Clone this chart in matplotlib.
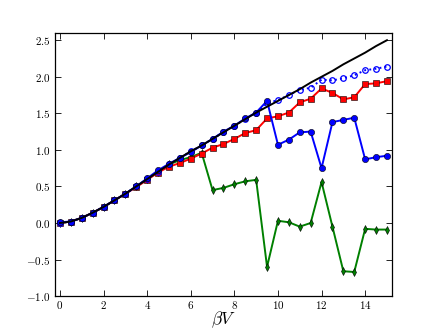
import numpy as np
import matplotlib
matplotlib.use("Agg")
import matplotlib.pyplot as plt
from matplotlib.ticker import FuncFormatter, MultipleLocator

plt.rcParams['mathtext.fontset'] = 'cm'
plt.rcParams['font.family'] = 'DejaVu Serif'

# beta*V grid
beta_v = np.arange(0, 15.01, 0.5)

# exact curve (black line)
exact = [0.00, 0.02, 0.07, 0.14, 0.22, 0.31, 0.40, 0.50, 0.60, 0.70,
         0.80, 0.89, 0.98, 1.06, 1.15, 1.24, 1.33, 1.42, 1.51, 1.59,
         1.67, 1.75, 1.83, 1.92, 2.00, 2.08, 2.17, 2.25, 2.33, 2.42, 2.50]

# open blue circles, dotted
open_blue = [0.00, 0.02, 0.07, 0.14, 0.22, 0.31, 0.40, 0.50, 0.60, 0.70,
             0.80, 0.89, 0.98, 1.06, 1.15, 1.24, 1.33, 1.42, 1.51, 1.64,
             1.68, 1.75, 1.82, 1.85, 1.96, 1.95, 1.98, 2.02, 2.09, 2.11, 2.14]

# red squares
red_sq = [0.00, 0.02, 0.07, 0.14, 0.22, 0.31, 0.40, 0.49, 0.59, 0.69,
          0.77, 0.82, 0.88, 0.95, 1.03, 1.08, 1.15, 1.23, 1.27, 1.43,
          1.46, 1.51, 1.65, 1.70, 1.84, 1.78, 1.69, 1.72, 1.90, 1.91, 1.94]

# filled blue circles
blue_dot = [0.01, 0.02, 0.07, 0.14, 0.22, 0.31, 0.40, 0.50, 0.61, 0.72,
            0.81, 0.89, 0.97, 1.06, 1.15, 1.25, 1.33, 1.43, 1.51, 1.67,
            1.07, 1.14, 1.24, 1.25, 0.75, 1.38, 1.41, 1.44, 0.87, 0.90, 0.92]

# green diamonds
green_dia = [0.00, 0.02, 0.07, 0.14, 0.22, 0.31, 0.40, 0.50, 0.60, 0.70,
             0.80, 0.86, 0.90, 0.96, 0.45, 0.48, 0.53, 0.57, 0.59, -0.60,
             0.03, 0.01, -0.05, 0.00, 0.56, -0.05, -0.66, -0.67, -0.08, -0.09, -0.09]

fig, ax = plt.subplots(figsize=(4.36, 3.29), dpi=100)
fig.subplots_adjust(left=0.125, right=0.9, bottom=0.1, top=0.9)

lw = 1.4
ax.plot(beta_v, green_dia, '-', color='green', lw=lw, marker='d', ms=4,
        mfc='green', mec='black', mew=0.4)
ax.plot(beta_v, red_sq, '-', color='red', lw=lw, marker='s', ms=4,
        mfc='red', mec='black', mew=0.4)
ax.plot(beta_v, open_blue, ':', color='blue', lw=lw, marker='o', ms=4,
        mfc='none', mec='blue', mew=0.9)
ax.plot(beta_v, blue_dot, '-', color='blue', lw=lw, marker='o', ms=4.5,
        mfc='blue', mec='black', mew=0.4)
ax.plot(beta_v, exact, '-', color='black', lw=lw)

ax.set_xlim(-0.25, 15.25)
ax.set_ylim(-1.0, 2.6)
ax.xaxis.set_major_locator(MultipleLocator(2))
ax.yaxis.set_major_locator(MultipleLocator(0.5))
ax.xaxis.set_major_formatter(FuncFormatter(lambda v, p: r'$%d$' % round(v)))
ax.yaxis.set_major_formatter(FuncFormatter(lambda v, p: r'$%.1f$' % v))
ax.tick_params(direction='in', top=True, right=True, length=4, width=0.6,
               labelsize=8, pad=3)
ax.tick_params(axis='x', pad=2)
for s in ax.spines.values():
    s.set_linewidth(0.9)

ax.set_xlabel(r'$\beta V$', fontsize=12.5, labelpad=-1)

fig.savefig('out.png', dpi=100, facecolor='white')
